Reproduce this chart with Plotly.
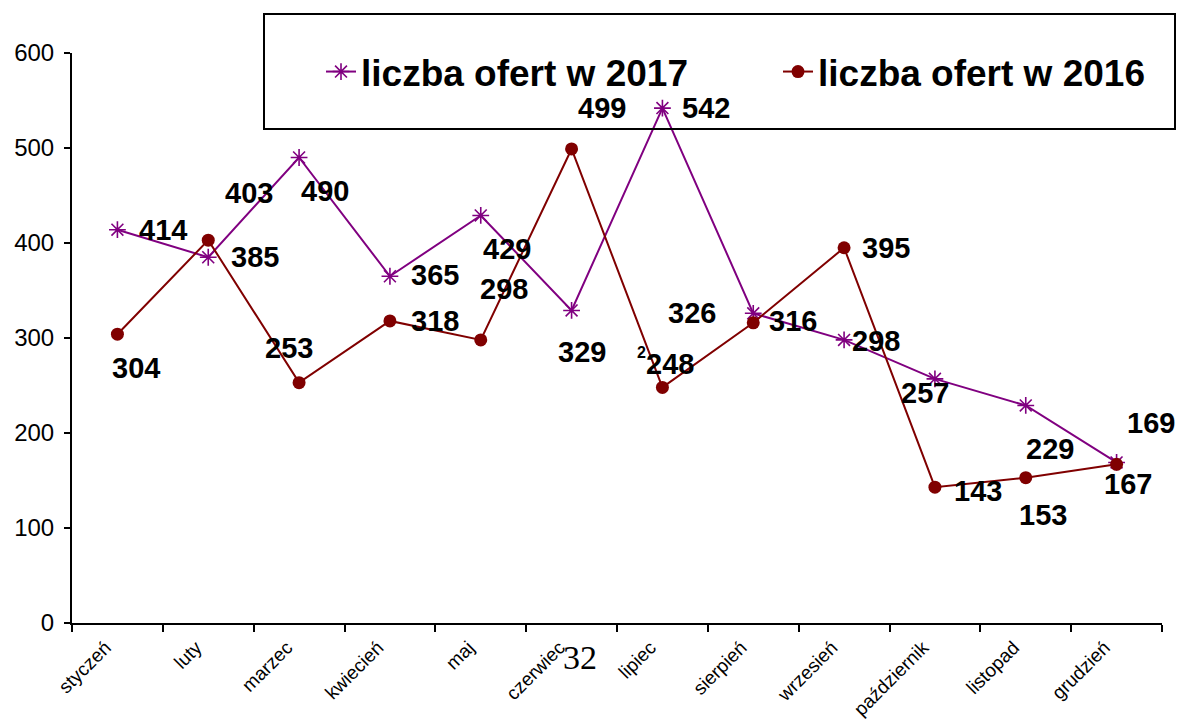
import plotly.graph_objects as go

months = ["styczeń", "luty", "marzec", "kwiecień", "maj", "czerwiec",
          "lipiec", "sierpień", "wrzesień", "październik", "listopad", "grudzień"]
offers_2017 = [414, 385, 490, 365, 429, 329, 542, 326, 298, 257, 229, 169]
offers_2016 = [304, 403, 253, 318, 298, 499, 248, 316, 395, 143, 153, 167]
y_ticks = [0, 100, 200, 300, 400, 500, 600]

# label offsets in pixels (dx right, dy down) - layout only
off_2017 = [(46, 0), (47, 0), (26, 33), (45, -1), (26, 34), (10, 42),
            (44, 0), (-61, 0), (32, 1), (-10, 14), (24, 44), (34, -39)]
off_2016 = [(19, 34), (41, -47), (-10, -35), (45, 0), (23, -51), (30, -41),
            (8, -23), (40, -2), (42, 0), (43, 4), (17, 37), (11, 20)]

PURPLE = "#800080"
DARKRED = "#800000"

# plot area on screen: x 72..1162, y 53..623
PL, PT, PW, PH = 72, 53, 1090, 570
FW, FH = 1180, 722


def px_x(ax):
    return (ax - PL) / PW


def px_y(ay):
    return (PT + PH - ay) / PH


fig = go.Figure()
fig.add_trace(go.Scatter(
    x=months, y=offers_2017, mode="lines+markers", name="liczba ofert w 2017",
    line=dict(color=PURPLE, width=2),
    marker=dict(symbol="asterisk-open", size=14, color=PURPLE,
                line=dict(color=PURPLE, width=1.6)),
    legend="legend",
))
fig.add_trace(go.Scatter(
    x=months, y=offers_2016, mode="lines+markers", name="liczba ofert w 2016",
    line=dict(color=DARKRED, width=2),
    marker=dict(symbol="circle", size=13, color=DARKRED),
    legend="legend2",
))

LBL_FONT = dict(family="Liberation Sans, Arial", size=29, color="black", weight="bold")
annotations = []
for vals, offs in ((offers_2017, off_2017), (offers_2016, off_2016)):
    for m, v, (dx, dy) in zip(months, vals, offs):
        annotations.append(dict(
            x=m, y=v, xref="x", yref="y", text=str(v), showarrow=False,
            xshift=dx, yshift=-dy, font=LBL_FONT,
        ))
# stray small "2" and page number artefacts seen in the source
annotations.append(dict(x="lipiec", y=offers_2016[6], xref="x", yref="y", text="2",
                        showarrow=False, xshift=-21, yshift=35,
                        font=dict(family="Liberation Sans, Arial", size=16,
                                  color="black", weight="bold")))
annotations.append(dict(x=px_x(580), y=px_y(657), xref="paper", yref="paper", text="32",
                        showarrow=False, xanchor="center", yanchor="middle",
                        font=dict(family="Liberation Serif, Times New Roman",
                                  size=34, color="black")))

LEG_FONT = dict(family="Liberation Sans, Arial", size=37, color="black", weight="bold")
fig.update_layout(
    width=FW, height=FH,
    margin=dict(l=PL, r=FW - PL - PW, t=PT, b=FH - PT - PH, autoexpand=False),
    paper_bgcolor="white", plot_bgcolor="white",
    showlegend=True,
    legend=dict(x=px_x(321), xanchor="left", y=px_y(72), yanchor="middle",
                font=LEG_FONT, bgcolor="rgba(0,0,0,0)", borderwidth=0),
    legend2=dict(x=px_x(778), xanchor="left", y=px_y(72), yanchor="middle",
                 font=LEG_FONT, bgcolor="rgba(0,0,0,0)", borderwidth=0),
    annotations=annotations,
    shapes=[dict(type="rect", xref="paper", yref="paper",
                 x0=px_x(264), x1=px_x(1175), y0=px_y(129), y1=px_y(14),
                 line=dict(color="black", width=2), fillcolor="rgba(0,0,0,0)")],
)
fig.update_xaxes(
    type="category", range=[-0.5, 11.5], tickson="boundaries",
    showline=True, linecolor="black", linewidth=2,
    ticks="outside", ticklen=7, tickcolor="black", tickwidth=2,
    tickangle=-45, showgrid=False, zeroline=False, automargin=False,
    ticklabelshift=-12, ticklabelstandoff=4,
    tickfont=dict(family="Liberation Sans, Arial", size=19, color="black"),
)
fig.update_yaxes(
    range=[0, 600], tickvals=y_ticks,
    showline=True, linecolor="black", linewidth=2,
    ticks="outside", ticklen=6, tickcolor="black", tickwidth=2,
    showgrid=False, zeroline=False, automargin=False, ticklabelstandoff=5,
    tickfont=dict(family="Liberation Sans, Arial", size=24, color="black"),
)

fig.write_html(
    "out.html",
    config={"displayModeBar": False},
    post_script="document.body.style.margin='0';document.body.style.overflow='hidden';",
)
